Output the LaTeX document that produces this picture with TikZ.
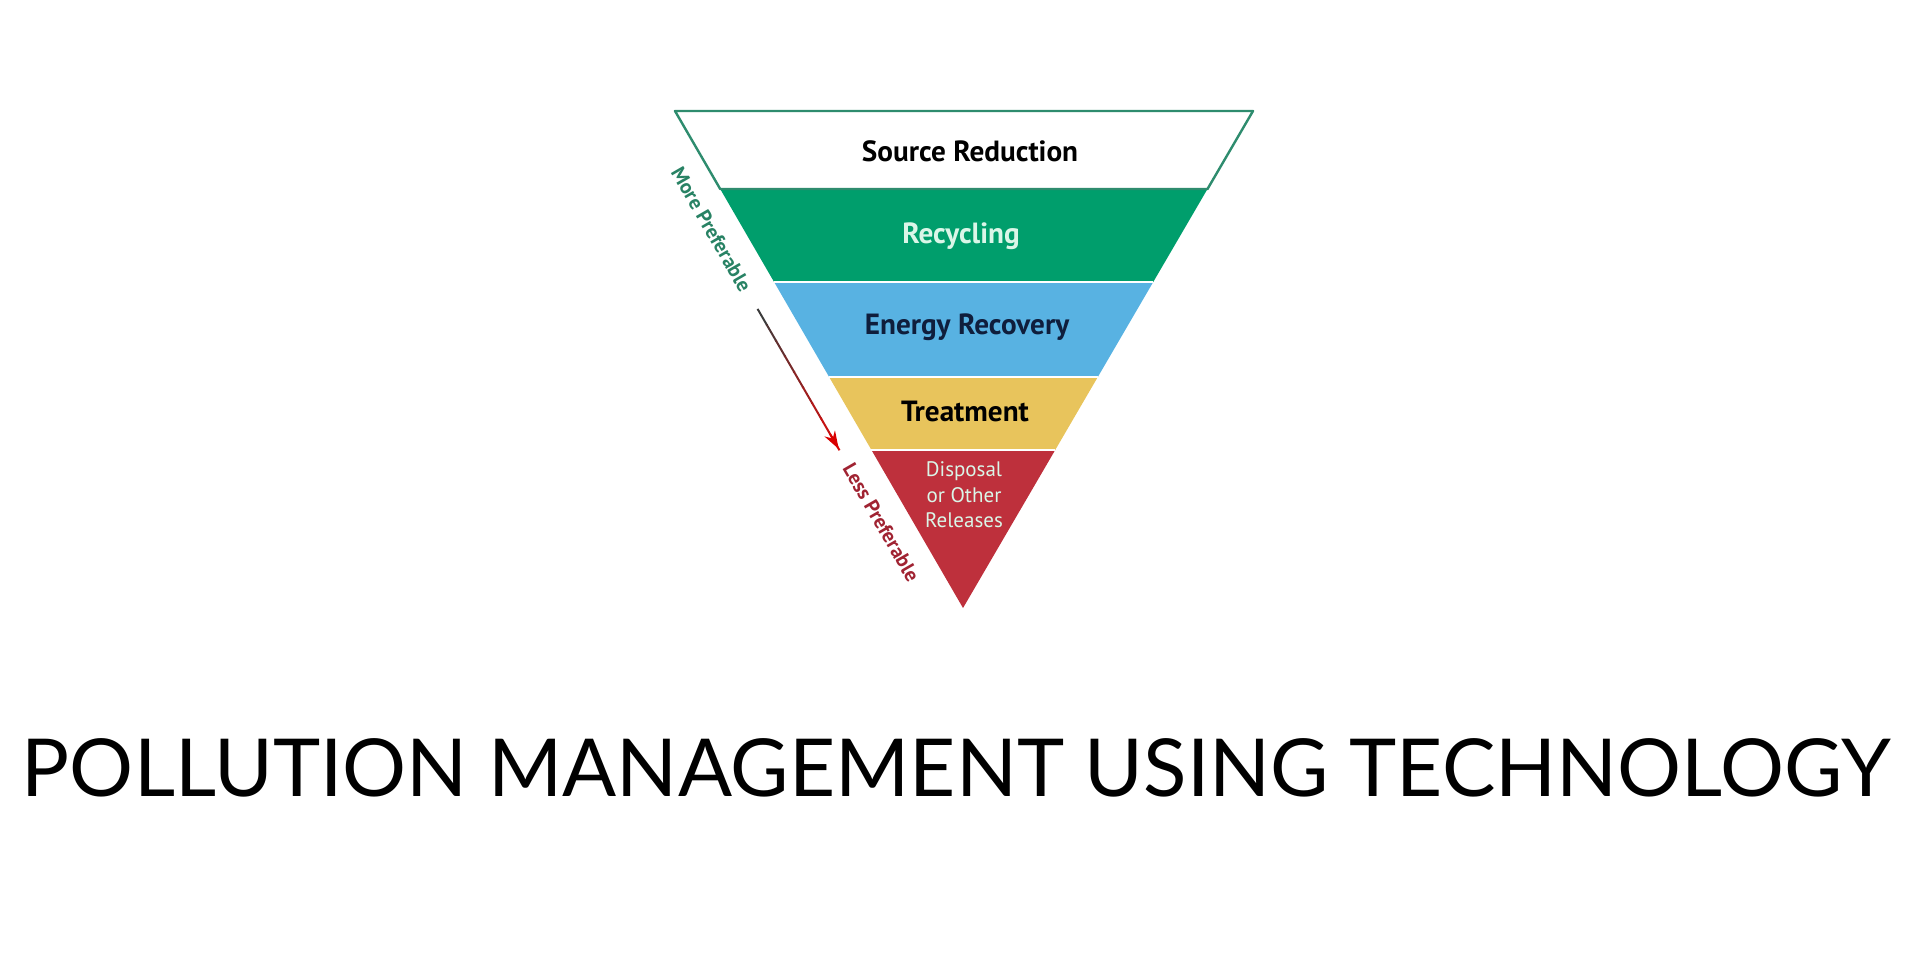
\documentclass[tikz,border=0pt]{standalone}
\usepackage{fontspec}
\setmainfont{PT Sans}
\newfontfamily\titlefont{Lato}
\usetikzlibrary{calc,arrows.meta}

\definecolor{edgeteal}{RGB}{46,140,110}
\definecolor{recycgreen}{RGB}{0,158,108}
\definecolor{energyblue}{RGB}{88,178,226}
\definecolor{treatyellow}{RGB}{232,196,92}
\definecolor{disposred}{RGB}{190,48,60}
\definecolor{mintext}{RGB}{218,246,232}
\definecolor{navytext}{RGB}{15,30,60}
\definecolor{moretext}{RGB}{40,130,100}
\definecolor{lesstext}{RGB}{160,35,50}
\definecolor{shaftgray}{RGB}{60,60,60}

\tikzset{
    bandlabel/.style={inner sep=0pt, font=\fontsize{14.6}{17}\selectfont\bfseries},
    sidelabel/.style={inner sep=0pt, rotate=-60, font=\fontsize{10.2}{11}\selectfont\bfseries},
}

\begin{document}
\begin{tikzpicture}[x=0.5pt,y=-0.5pt,line join=round]
    \useasboundingbox (0,0) rectangle (1920,960);

    \coordinate (A) at (675,111);
    \coordinate (B) at (1253,111);
    \coordinate (T) at (963,608);
    \foreach \n/\t in {1/0.157,2/0.344,3/0.535,4/0.682}{
        \coordinate (L\n) at ($(A)!\t!(T)$);
        \coordinate (R\n) at ($(B)!\t!(T)$);
    }

    % bands
    \fill[white] (A) -- (B) -- (R1) -- (L1) -- cycle;
    \fill[recycgreen] (L1) -- (R1) -- (R2) -- (L2) -- cycle;
    \fill[energyblue] (L2) -- (R2) -- (R3) -- (L3) -- cycle;
    \fill[treatyellow] (L3) -- (R3) -- (R4) -- (L4) -- cycle;
    \fill[disposred] (L4) -- (R4) -- (T) -- cycle;
    \foreach \n in {2,3,4}
        \draw[white, line width=1pt] (L\n) -- (R\n);
    \draw[edgeteal, line width=1.2pt] (A) -- (B) -- (R1) -- (L1) -- cycle;

    \node[bandlabel] (srcred) at (970,151) {Source Reduction};
    \node[bandlabel, text=mintext] (recyc) at (961,236) {Recycling};
    \node[bandlabel, text=navytext] (energy) at (967,327) {Energy Recovery};
    \node[bandlabel] (treat) at (965,411) {Treatment};
    \node[inner sep=0pt, align=center, text=mintext, font=\fontsize{10.5}{12.75}\selectfont]
        (dispos) at (964,495) {Disposal\\or Other\\Releases};

    % preference scale along the left edge
    \node[sidelabel, text=moretext] (more) at ($(A)!0.21!(T)+(-24,14)$) {More Preferable};
    \node[sidelabel, text=lesstext] (less) at ($(A)!0.80!(T)+(-24,14)$) {Less Preferable};
    \coordinate (arrtop) at ($(A)!0.37!(T)+(-24,14)$);
    \coordinate (arrbot) at ($(A)!0.652!(T)+(-24,14)$);
    \foreach \i in {0,...,8}
        \draw[red!\i0!shaftgray, line width=1pt]
            ($(arrtop)!\i/9!(arrbot)$) -- ($(arrtop)!\i/9+0.12!(arrbot)$);
    \draw[-{Stealth[length=9pt,width=6pt]}, red!85!black, line width=1pt]
        ($(arrtop)!0.9!(arrbot)$) -- (arrbot);

    \node[font=\titlefont\fontsize{40}{40}\selectfont, inner sep=0pt] (title) at (956,768)
        {POLLUTION MANAGEMENT USING TECHNOLOGY};
\end{tikzpicture}
\end{document}
